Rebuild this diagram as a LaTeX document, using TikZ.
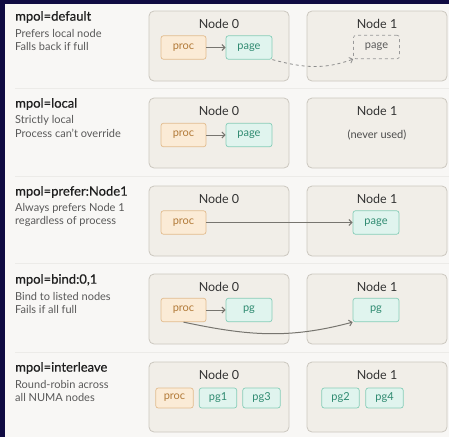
\documentclass[tikz,border=0pt]{standalone}
\usepackage{fontspec}
\setmainfont{Lato}
\newfontfamily\titlefont{Lato}[FakeBold=0.45]
\usetikzlibrary{arrows.meta,positioning}
\definecolor{framenavy}{HTML}{100B42}
\definecolor{panel}{HTML}{F8F7F5}
\definecolor{rulegray}{HTML}{ECEBE8}
\definecolor{numafill}{HTML}{F1EEE8}
\definecolor{numaline}{HTML}{CBC7BF}
\definecolor{procfill}{HTML}{FBEBD6}
\definecolor{procline}{HTML}{E2BC8E}
\definecolor{proctext}{HTML}{B27A38}
\definecolor{pagefill}{HTML}{E0F4EE}
\definecolor{pageline}{HTML}{86CDB8}
\definecolor{pagetext}{HTML}{2E8A70}
\definecolor{arrowgray}{HTML}{77756F}

\begin{document}
\begin{tikzpicture}[x=1pt, y=-1pt,
		numa/.style={draw=numaline, fill=numafill, rounded corners=5pt, line width=0.8pt,
			minimum width=140pt, minimum height=70pt},
		numalabel/.style={text=black!80, font=\fontsize{12.5}{14}\selectfont},
		proc/.style={draw=procline, fill=procfill, text=proctext, rounded corners=2.5pt,
			line width=0.7pt, inner sep=0pt, minimum width=45pt, minimum height=23.5pt,
			font=\fontsize{11}{13}\selectfont},
		page/.style={proc, draw=pageline, fill=pagefill, text=pagetext, minimum width=46pt},
		ghost/.style={proc, draw=black!40, fill=none, dashed, text=black!65, minimum width=46pt},
		small/.style={minimum width=37.5pt, minimum height=20pt},
		title/.style={anchor=west, inner sep=0pt, text=black!88, font=\titlefont\fontsize{13}{15}\selectfont},
		sub/.style={anchor=west, inner sep=0pt, text=black!65, font=\fontsize{11}{13}\selectfont},
		link/.style={draw=arrowgray, line width=1pt, -{Straight Barb[length=3pt, width=6pt]}}]

	\useasboundingbox (0,0) rectangle (449,437);
	\fill[framenavy] (0,0) rectangle (449,437);
	\fill[panel] (5,4) rectangle (449,437);

	\draw[rulegray, line width=1pt] (15,88) -- (449,88);
	\draw[rulegray, line width=1pt] (15,176) -- (449,176);
	\draw[rulegray, line width=1pt] (15,263) -- (449,263);
	\draw[rulegray, line width=1pt] (15,352) -- (449,352);

	% mpol=default
	\node[title] (defT) at (15,17) {mpol=default};
	\node[sub] (defS1) at (15,33.5) {Prefers local node};
	\node[sub] (defS2) at (15,46) {Falls back if full};
	\node[numa] (defN0) at (219,46) {};
	\node[numa] (defN1) at (377,46) {};
	\node[numalabel] (defL0) at (219,24) {Node 0};
	\node[numalabel] (defL1) at (377,24) {Node 1};
	\node[proc] (defProc) at (183.5,47.5) {proc};
	\node[page] (defPage) at (249,47.5) {page};
	\node[ghost] (defGhost) at (376.5,47) {page};
	\draw[link] (defProc) -- (defPage);
	\draw[link, dashed, draw=black!45, line width=0.8pt] (defPage.south east) to[out=-15, in=200] (defGhost.south west);

	% mpol=local
	\node[title] (locT) at (15,104) {mpol=local};
	\node[sub] (locS1) at (15,120.5) {Strictly local};
	\node[sub] (locS2) at (15,133) {Process can't override};
	\node[numa] (locN0) at (219,133) {};
	\node[numa] (locN1) at (377,133) {};
	\node[numalabel] (locL0) at (219,111) {Node 0};
	\node[numalabel] (locL1) at (377,111) {Node 1};
	\node[proc] (locProc) at (183.5,135) {proc};
	\node[page] (locPage) at (249,135) {page};
	\node[sub, anchor=center, text=black!70] (locNever) at (377,135) {(never used)};
	\draw[link] (locProc) -- (locPage);

	% mpol=prefer:Node1
	\node[title] (preT) at (15,192) {mpol=prefer:Node1};
	\node[sub] (preS1) at (15,208.5) {Always prefers Node 1};
	\node[sub] (preS2) at (15,221) {regardless of process};
	\node[numa] (preN0) at (219,221) {};
	\node[numa] (preN1) at (377,221) {};
	\node[numalabel] (preL0) at (219,199) {Node 0};
	\node[numalabel] (preL1) at (377,199) {Node 1};
	\node[proc] (preProc) at (183.5,222.5) {proc};
	\node[page] (prePage) at (376,222.5) {page};
	\draw[link] (preProc) -- (prePage);

	% mpol=bind:0,1
	\node[title] (binT) at (15,280) {mpol=bind:0,1};
	\node[sub] (binS1) at (15,296.5) {Bind to listed nodes};
	\node[sub] (binS2) at (15,309) {Fails if all full};
	\node[numa] (binN0) at (219,309) {};
	\node[numa] (binN1) at (377,309) {};
	\node[numalabel] (binL0) at (219,287) {Node 0};
	\node[numalabel] (binL1) at (377,287) {Node 1};
	\node[proc] (binProc) at (183.5,310) {proc};
	\node[page] (binPg0) at (249,310) {pg};
	\node[page] (binPg1) at (376,310) {pg};
	\draw[link] (binProc) -- (binPg0);
	\draw[link] (binProc.south) to[out=-12, in=195] (binPg1.south west);

	% mpol=interleave
	\node[title] (intT) at (15,368) {mpol=interleave};
	\node[sub] (intS1) at (15,384.5) {Round-robin across};
	\node[sub] (intS2) at (15,397) {all NUMA nodes};
	\node[numa] (intN0) at (219,397) {};
	\node[numa] (intN1) at (377,397) {};
	\node[numalabel] (intL0) at (219,374.5) {Node 0};
	\node[numalabel] (intL1) at (377,374.5) {Node 1};
	\node[proc, small] (intProc) at (174.5,398) {proc};
	\node[page, small] (intPg1) at (218,398) {pg1};
	\node[page, small] (intPg3) at (261.5,398) {pg3};
	\node[page, small] (intPg2) at (340.5,398) {pg2};
	\node[page, small] (intPg4) at (384.5,398) {pg4};

\end{tikzpicture}
\end{document}
